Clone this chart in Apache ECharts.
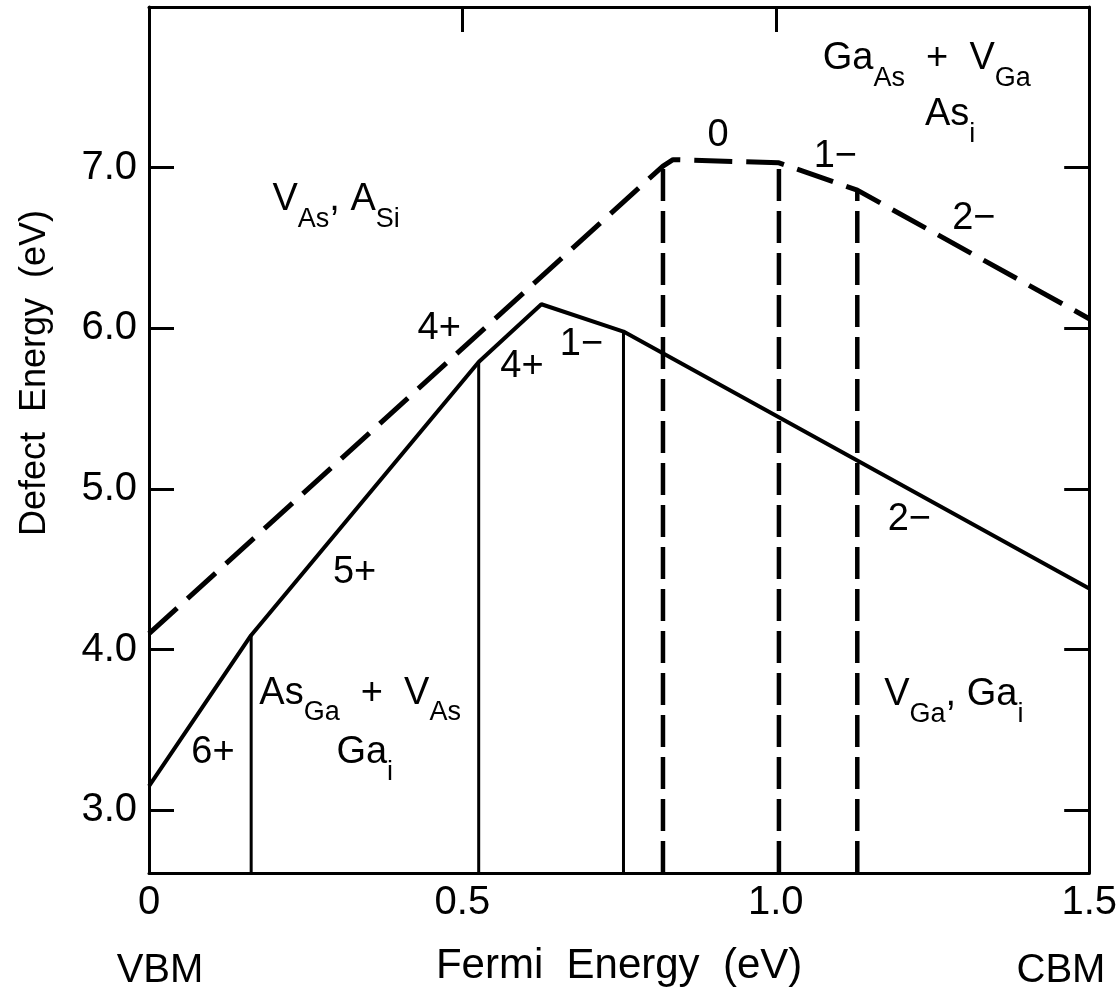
<!DOCTYPE html>
<html>
<head>
<meta charset="utf-8">
<script src="https://cdn.jsdelivr.net/npm/echarts@6.0.0/dist/echarts.min.js"></script>
<style>
html, body { margin: 0; padding: 0; background: #fff; }
#miGrafica { width: 1120px; height: 999px; }
</style>
</head>
<body>
<div id="miGrafica"></div>
<script>
// Defect energy vs Fermi energy (GaAs, VBM -> CBM)

var FONT = "'Liberation Sans', Arial, sans-serif";

// [Fermi energy, defect energy] along each curve
var solidCurve = [[0, 3.15], [0.163, 4.09], [0.526, 5.79], [0.626, 6.15], [0.757, 5.98], [1.5, 4.38]];
var dashedCurve = [[0, 4.10], [0.82, 7.01], [0.836, 7.05], [1.005, 7.03], [1.13, 6.86], [1.5, 6.06]];
// points of each curve that get a vertical drop line
var solidDrops = [1, 2, 4];
var dashedDrops = [1, 3, 4];

var xTicks = [0, 0.5, 1.0, 1.5];
var xTopTicks = [0.5, 1.0];
var yTicks = [3, 4, 5, 6, 7];
var yMin = 2.61, yMax = 8.0;

// charge state labels
var chargeText = ['0', '1−', '2−', '4+', '4+', '1−', '2−', '5+', '6+'];
var chargeX = [0.908, 1.095, 1.316, 0.463, 0.595, 0.690, 1.213, 0.328, 0.102];
var chargeY = [7.22, 7.09, 6.70, 6.02, 5.78, 5.92, 4.83, 4.50, 3.38];

// region labels, {s|..} is a subscript
var regionText = [
    '{m|V}{s|As}{m|, A}{s|Si}',
    '{m|Ga}{s|As}{m|  +  V}{s|Ga}',
    '{m|As}{s|i}',
    '{m|As}{s|Ga}{m|  +  V}{s|As}',
    '{m|Ga}{s|i}',
    '{m|V}{s|Ga}{m|, Ga}{s|i}'
];
var regionX = [0.197, 1.075, 1.238, 0.176, 0.299, 1.173];
var regionY = [6.83, 7.71, 7.36, 3.76, 3.39, 3.75];

var dom = document.getElementById('miGrafica');
var myChart = echarts.init(dom, null, { renderer: 'canvas' });

function dropLines(curve, idx, dashed) {
    return idx.map(function (i) {
        return {
            type: 'line',
            data: [[curve[i][0], yMin], curve[i]],
            symbol: 'none',
            silent: true,
            lineStyle: { color: '#000', width: dashed ? 4.5 : 3, type: dashed ? [32, 10] : 'solid', cap: 'butt' }
        };
    });
}

var tickStyle = { color: '#000', width: 3 };
var labelFont = { fontSize: 40, fontFamily: FONT, color: '#000' };

var option = {
    animation: false,
    backgroundColor: '#fff',
    grid: { left: 149, right: 27, top: 7, bottom: 126 },
    xAxis: [
        {
            type: 'value', min: 0, max: 1.5, position: 'bottom',
            axisLine: { show: true, onZero: false, lineStyle: tickStyle },
            axisTick: { show: false },
            splitLine: { show: false },
            axisLabel: Object.assign({
                customValues: xTicks,
                margin: 10,
                showMinLabel: true, showMaxLabel: true,
                formatter: function (v) { return v === 0 ? '0' : v.toFixed(1); }
            }, labelFont),
            name: 'Fermi  Energy  (eV)',
            nameLocation: 'middle',
            nameGap: 72,
            nameTextStyle: { fontSize: 42, fontFamily: FONT, color: '#000' }
        },
        {
            type: 'value', min: 0, max: 1.5, position: 'top',
            axisLine: { show: true, onZero: false, lineStyle: tickStyle },
            axisTick: { show: true, inside: true, length: 25, customValues: xTopTicks, lineStyle: tickStyle },
            splitLine: { show: false },
            axisLabel: { show: false }
        }
    ],
    yAxis: [
        {
            type: 'value', min: yMin, max: yMax, position: 'left',
            axisLine: { show: true, onZero: false, lineStyle: tickStyle },
            axisTick: { show: true, inside: true, length: 25, customValues: yTicks, lineStyle: tickStyle },
            splitLine: { show: false },
            axisLabel: Object.assign({
                customValues: yTicks,
                margin: 12,
                formatter: function (v) { return v.toFixed(1); }
            }, labelFont)
        },
        {
            type: 'value', min: yMin, max: yMax, position: 'right',
            axisLine: { show: true, onZero: false, lineStyle: tickStyle },
            axisTick: { show: true, inside: true, length: 25, customValues: yTicks, lineStyle: tickStyle },
            splitLine: { show: false },
            axisLabel: { show: false }
        }
    ],
    graphic: [
        {
            type: 'text', x: 35, y: 373, rotation: Math.PI / 2,
            style: { text: 'Defect  Energy  (eV)', font: '36px ' + FONT, fill: '#000', align: 'center', verticalAlign: 'middle' }
        },
        {
            type: 'text', x: 160, y: 971,
            style: { text: 'VBM', font: '40px ' + FONT, fill: '#000', align: 'center', verticalAlign: 'middle' }
        },
        {
            type: 'text', x: 1061, y: 971,
            style: { text: 'CBM', font: '40px ' + FONT, fill: '#000', align: 'center', verticalAlign: 'middle' }
        }
    ],
    series: [
        {
            type: 'line', data: solidCurve, symbol: 'none', silent: true,
            lineStyle: { color: '#000', width: 4, type: 'solid' }
        },
        {
            type: 'line', data: dashedCurve, symbol: 'none', silent: true,
            lineStyle: { color: '#000', width: 5, type: [38, 14], cap: 'butt' }
        }
    ]
    .concat(dropLines(solidCurve, solidDrops, false))
    .concat(dropLines(dashedCurve, dashedDrops, true))
    .concat([
        {
            type: 'scatter', symbolSize: 0, silent: true, z: 5,
            itemStyle: { opacity: 1 },
            data: chargeText.map(function (t, i) { return { value: [chargeX[i], chargeY[i]], name: t }; }),
            label: {
                show: true, position: 'inside', formatter: '{b}',
                align: 'center', verticalAlign: 'middle', offset: [0, 3],
                fontSize: 38, fontFamily: FONT, color: '#000', opacity: 1
            }
        },
        {
            type: 'scatter', symbolSize: 0, silent: true, z: 5,
            itemStyle: { opacity: 1 },
            data: regionText.map(function (t, i) { return { value: [regionX[i], regionY[i]], name: t }; }),
            label: {
                show: true, position: 'inside', formatter: '{b}',
                align: 'left', verticalAlign: 'middle', offset: [0, 12],
                color: '#000', opacity: 1,
                rich: {
                    m: { fontSize: 38, fontFamily: FONT, color: '#000', lineHeight: 40, verticalAlign: 'top' },
                    s: { fontSize: 27, fontFamily: FONT, color: '#000', lineHeight: 52, verticalAlign: 'bottom' }
                }
            }
        }
    ])
};

if (option && typeof option === 'object') {
    myChart.setOption(option);
}

window.addEventListener('resize', myChart.resize);
</script>
</body>
</html>
